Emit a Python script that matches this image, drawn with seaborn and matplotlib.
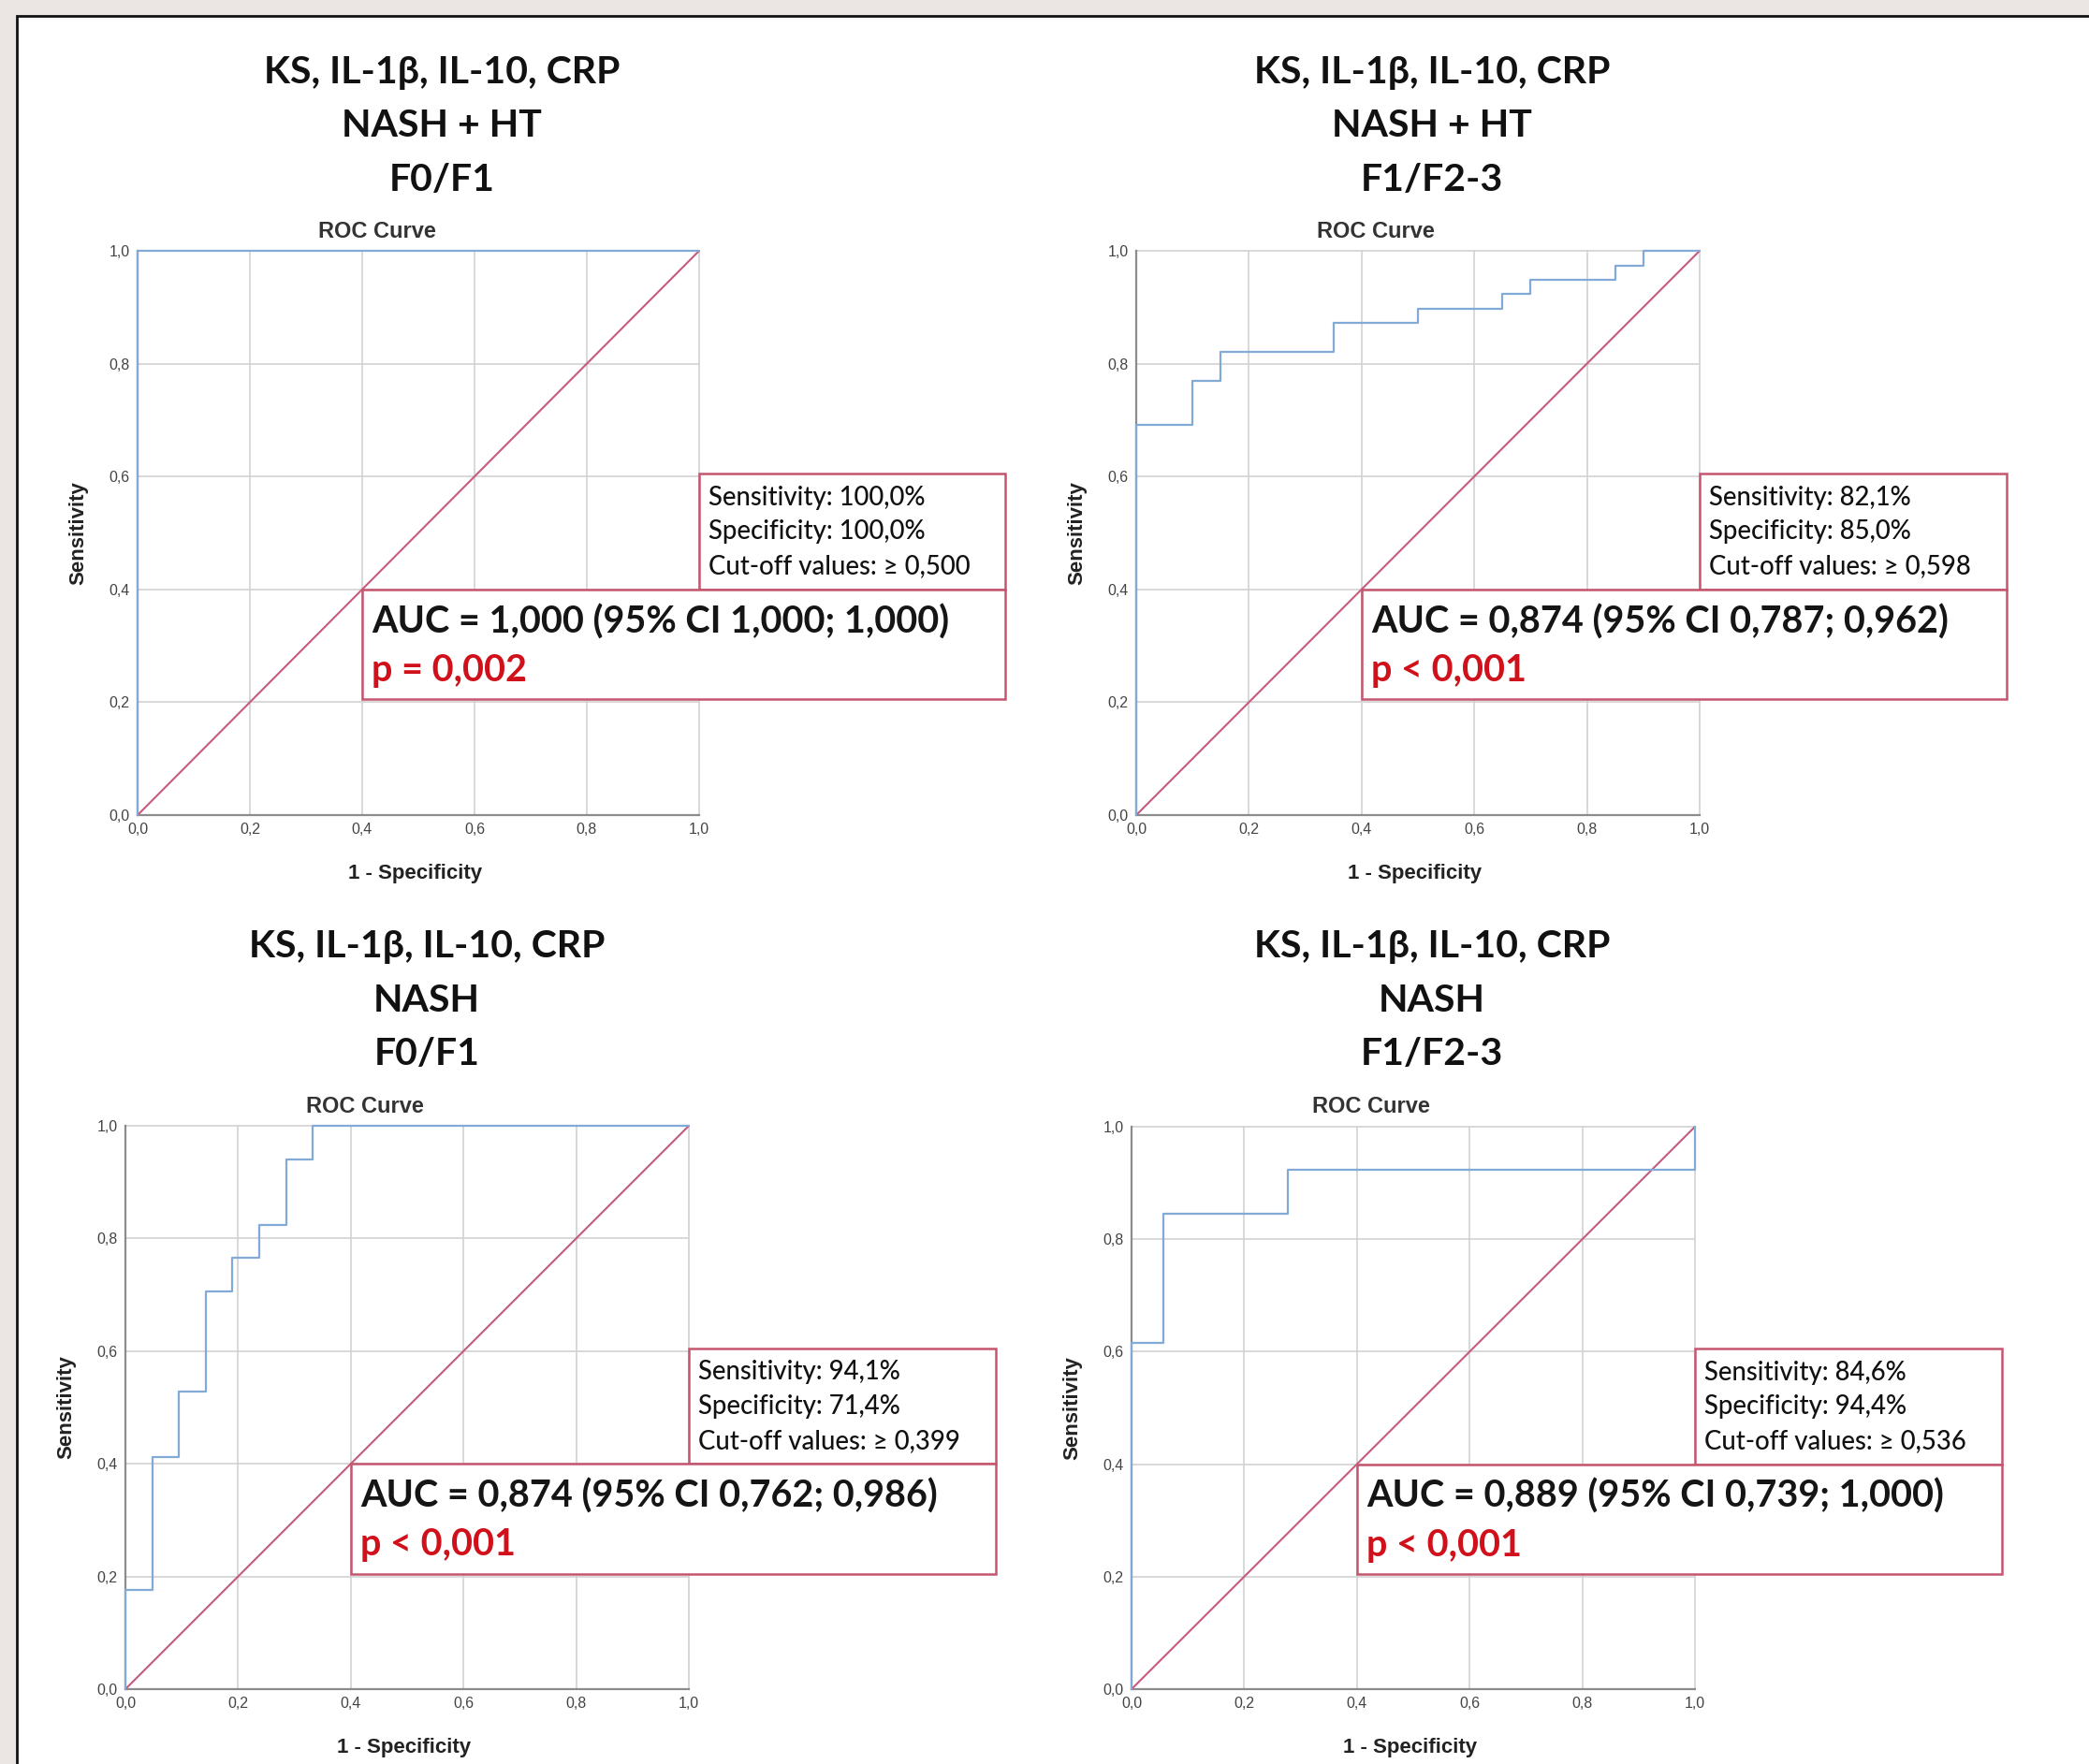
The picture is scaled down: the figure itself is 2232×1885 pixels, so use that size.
import matplotlib
matplotlib.use("Agg")
import matplotlib.pyplot as plt
from matplotlib.patches import Rectangle
import seaborn as sns
import pandas as pd

W, H = 2232, 1885

# panel headings
marker_line = "KS, IL-1β, IL-10, CRP"
groups = ["NASH + HT", "NASH + HT", "NASH", "NASH"]
stages = ["F0/F1", "F1/F2-3", "F0/F1", "F1/F2-3"]

# ROC curve corner points (drawn as steps-post)
fpr_1 = [0.0, 0.0, 1.0]
tpr_1 = [0.0, 1.0, 1.0]
fpr_2 = [0.0, 0.0, 0.10, 0.15, 0.35, 0.50, 0.65, 0.70, 0.85, 0.90, 1.0]
tpr_2 = [0.0, 0.692, 0.769, 0.821, 0.872, 0.897, 0.923, 0.949, 0.974, 1.0, 1.0]
fpr_3 = [0.0, 0.0, 0.048, 0.095, 0.143, 0.190, 0.238, 0.286, 0.333, 1.0]
tpr_3 = [0.0, 0.176, 0.412, 0.529, 0.706, 0.765, 0.824, 0.941, 1.0, 1.0]
fpr_4 = [0.0, 0.0, 0.056, 0.278, 1.0, 1.0]
tpr_4 = [0.0, 0.615, 0.846, 0.923, 0.923, 1.0]

sensitivity = ["100,0%", "82,1%", "94,1%", "84,6%"]
specificity = ["100,0%", "85,0%", "71,4%", "94,4%"]
cutoff = ["0,500", "0,598", "0,399", "0,536"]
auc = ["1,000", "0,874", "0,874", "0,889"]
ci_low = ["1,000", "0,787", "0,762", "0,739"]
ci_high = ["1,000", "0,962", "0,986", "1,000"]
p_text = ["p = 0,002", "p < 0,001", "p < 0,001", "p < 0,001"]

tick_vals = [0.0, 0.2, 0.4, 0.6, 0.8, 1.0]
tick_labels = ["0,0", "0,2", "0,4", "0,6", "0,8", "1,0"]

curves = [(fpr_1, tpr_1), (fpr_2, tpr_2), (fpr_3, tpr_3), (fpr_4, tpr_4)]

# layout in reference pixels: axes (left, top, right, bottom)
axes_px = [(147, 268, 747, 871), (1214, 268, 1816, 871),
           (134, 1203, 736, 1805), (1209, 1204, 1811, 1805)]
title_x = [472, 1530, 456, 1530]
title_y = [[78, 135, 192], [78, 135, 192], [1012, 1069, 1126], [1012, 1069, 1126]]
roc_xy = [(403, 248), (1470, 248), (390, 1182), (1465, 1182)]

ROC_BLUE = "#82aad6"
DIAG = "#c75b7c"
BOX = "#c4566f"
PRED = "#d0111b"
TXT_FONT = ["Lato", "Noto Sans", "DejaVu Sans"]
AX_FONT = ["Liberation Sans", "DejaVu Sans"]

sns.set_style("whitegrid")
plt.rcParams["font.family"] = AX_FONT

fig = plt.figure(figsize=(W / 100, H / 100), dpi=100)
fig.patch.set_facecolor("#ebe5e3")

# white sheet with black frame on left/top, kept behind the axes
fig.patches.append(Rectangle((18 / W, -0.1), 1.2, 1.1 - 17 / H,
                             transform=fig.transFigure, facecolor="white",
                             edgecolor="#111111", linewidth=2, zorder=-10))


def fx(x):
    return x / W


def fy(y):
    return 1 - y / H


for i, (fpr, tpr) in enumerate(curves):
    l, t, r, b = axes_px[i]
    ax = fig.add_axes([fx(l), fy(b), (r - l) / W, (b - t) / H])
    ax.set_facecolor("white")

    df = pd.DataFrame({"fpr": fpr, "tpr": tpr})
    sns.lineplot(data=df, x="fpr", y="tpr", ax=ax, estimator=None, sort=False,
                 drawstyle="steps-post", color=ROC_BLUE, linewidth=1.6,
                 clip_on=False, zorder=4)
    diag = pd.DataFrame({"x": [0.0, 1.0], "y": [0.0, 1.0]})
    sns.lineplot(data=diag, x="x", y="y", ax=ax, estimator=None,
                 color=DIAG, linewidth=1.5, clip_on=False, zorder=3)

    ax.set_xlim(0, 1)
    ax.set_ylim(0, 1)
    ax.set_xticks(tick_vals)
    ax.set_yticks(tick_vals)
    ax.set_xticklabels(tick_labels)
    ax.set_yticklabels(tick_labels)
    ax.tick_params(length=0, labelsize=11.5, colors="#444444", pad=6)
    ax.grid(True, color="#d2d2d2", linewidth=1.2)
    for ln in ax.get_xgridlines() + ax.get_ygridlines():
        ln.set_clip_on(False)
    for side in ["top", "right"]:
        ax.spines[side].set_visible(False)
    for side in ["left", "bottom"]:
        ax.spines[side].set_color("#8c8c8c")
        ax.spines[side].set_linewidth(1.6)

    ax.set_xlabel("1 - Specificity", fontsize=16, fontweight="bold", color="#222222")
    ax.set_ylabel("Sensitivity", fontsize=16, fontweight="bold", color="#222222")
    ax.xaxis.set_label_coords(0.495, -0.087)
    ax.yaxis.set_label_coords(-0.088, 0.5)

    # SPSS chart title
    rx, ry = roc_xy[i]
    fig.text(fx(rx), fy(ry), "ROC Curve", ha="center", va="center",
             fontsize=17, fontweight="bold", color="#333333")

    # three-line heading
    for line, yy in zip([marker_line, groups[i], stages[i]], title_y[i]):
        fig.text(fx(title_x[i]), fy(yy), line, ha="center", va="center",
                 fontsize=29.5, fontweight="bold", family=TXT_FONT, color="#111111")

    # annotation boxes (data coords, outside the axes)
    ax.add_patch(Rectangle((1.0, 0.4), 0.545, 0.205, facecolor="white",
                           edgecolor=BOX, linewidth=1.8, clip_on=False, zorder=5))
    ax.add_patch(Rectangle((0.4, 0.205), 1.145, 0.195, facecolor="white",
                           edgecolor=BOX, linewidth=1.8, clip_on=False, zorder=5))
    sens_lines = [f"Sensitivity: {sensitivity[i]}",
                  f"Specificity: {specificity[i]}",
                  f"Cut-off values: \u2265 {cutoff[i]}"]
    for line, yy in zip(sens_lines, [0.563, 0.502, 0.441]):
        ax.text(1.017, yy, line, ha="left", va="center", fontsize=19.8,
                fontweight="medium", family=TXT_FONT, color="#111111",
                zorder=6, clip_on=False)
    ax.text(0.417, 0.343, f"AUC = {auc[i]} (95% CI {ci_low[i]}; {ci_high[i]})",
            ha="left", va="center", fontsize=28.5, fontweight="bold",
            family=TXT_FONT, color="#151515", zorder=6, clip_on=False)
    ax.text(0.417, 0.256, p_text[i], ha="left", va="center", fontsize=28.5,
            fontweight="bold", family=TXT_FONT, color=PRED, zorder=6,
            clip_on=False)

fig.savefig("out.png", dpi=100, facecolor=fig.get_facecolor())
